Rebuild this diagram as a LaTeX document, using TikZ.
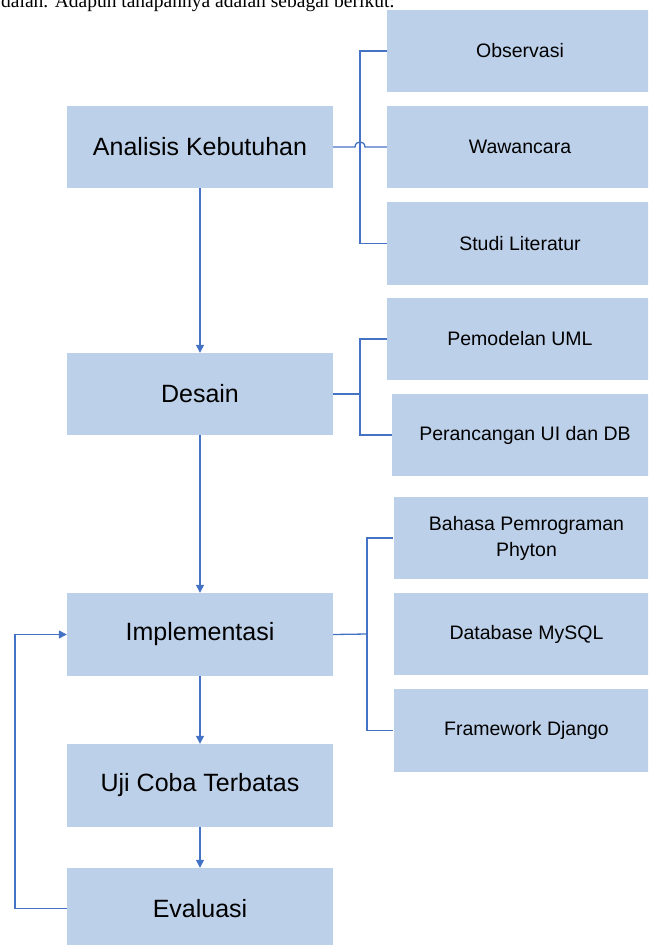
\documentclass[tikz,border=0pt]{standalone}
\usepackage{fontspec}
\setmainfont{Liberation Sans}
\newfontfamily\serifx{Liberation Serif}
\usetikzlibrary{arrows.meta}
\definecolor{boxfill}{HTML}{BDD0E9}
\definecolor{linec}{HTML}{4472C4}
\begin{document}
\begin{tikzpicture}[x=1pt,y=-1pt,
  mainbox/.style={fill=boxfill, draw=none, minimum width=266pt, minimum height=82pt, inner sep=0pt, font=\fontsize{25}{28}\selectfont},
  subbox/.style={fill=boxfill, draw=none, minimum width=266pt, minimum height=82pt, inner sep=0pt, font=\fontsize{19.5}{26}\selectfont, align=center},
  conn/.style={draw=linec, line width=1.3pt},
  arr/.style={conn, -{Triangle[width=8pt,length=8pt]}}]
\useasboundingbox (0,0) rectangle (648,945);
\clip (0,0) rectangle (648,945);

\node[anchor=base west, font=\serifx\fontsize{19.5}{22}\selectfont, inner sep=0pt] (toptext) at (1,7) {dalah. Adapun tahapannya adalah sebagai berikut:};

% main column
\node[mainbox] (an) at (200,147) {Analisis Kebutuhan};
\node[mainbox] (des) at (200,394) {Desain};
\node[mainbox, minimum height=83pt] (impl) at (200,634.5) {Implementasi};
\node[mainbox, minimum height=83pt] (uji) at (200,785.5) {Uji Coba Terbatas};
\node[mainbox, minimum height=81pt] (ev) at (200,908.5) {Evaluasi};

% sub boxes
\node[subbox] (obs) at (520,51) {Observasi};
\node[subbox] (waw) at (520,147) {Wawancara};
\node[subbox, minimum height=83pt] (stu) at (520,243.5) {Studi Literatur};
\node[subbox] (pem) at (520,339) {Pemodelan UML};
\node[subbox] (per) at (525,435) {Perancangan UI dan DB};
\node[subbox] (bah) at (526.5,538) {Bahasa Pemrograman\\Phyton};
\node[subbox] (dat) at (526.5,634) {Database MySQL};
\node[subbox, minimum height=83pt] (fra) at (526.5,730.5) {Framework Django};

% junctions
\coordinate (j1) at (360,147);
\coordinate (h1) at (355,147);
\coordinate (h2) at (365,147);
\coordinate (j2) at (360,394);
\coordinate (j3) at (367,634);
\coordinate (fb) at (15,908.5);

% connectors
\draw[conn] (obs.west) -| (j1) |- (stu.west);
\draw[conn] (an.east) -- (h1) .. controls (355,140.3) and (365,140.3) .. (h2) -- (waw.west);
\draw[conn] (pem.west) -| (j2) |- (per.west);
\draw[conn] (des.east) -- (j2);
\draw[conn] (bah.west) -| (j3) |- (fra.west);
\draw[conn] (impl.east) -- (j3);

% arrows
\draw[arr] (an.south) -- (des.north);
\draw[arr] (des.south) -- (impl.north);
\draw[arr] (impl.south) -- (uji.north);
\draw[arr] (uji.south) -- (ev.north);
\draw[arr] (ev.west) -- (fb) |- (impl.west);
\end{tikzpicture}
\end{document}
